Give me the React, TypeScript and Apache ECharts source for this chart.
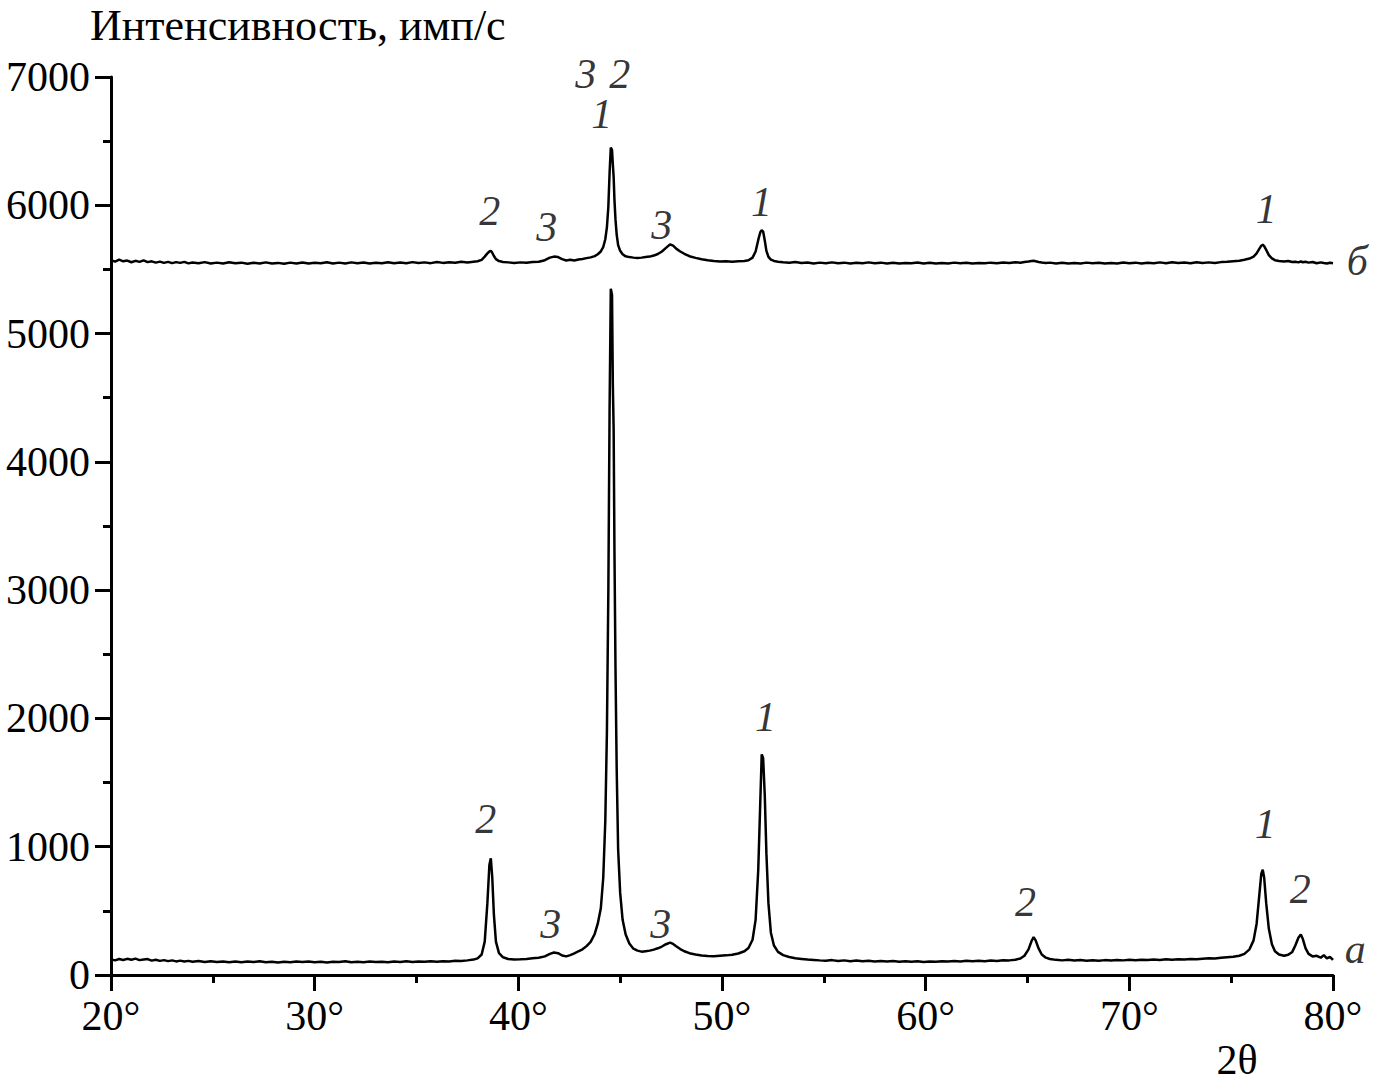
import React, { useEffect, useRef } from "react";
import * as echarts from "echarts";

// Diffraction scan "а" (lower curve): [2θ, intensity]
const scanA: [number, number][] = [
  [20.0, 122], [20.2, 114], [20.4, 125], [20.6, 117], [20.8, 126], [21.0, 119], [21.2, 128], [21.4, 116],
  [21.6, 121], [21.8, 124], [22.0, 112], [22.2, 119], [22.4, 110], [22.6, 116], [22.8, 108], [23.0, 114],
  [23.2, 106], [23.4, 112], [23.6, 105], [23.8, 110], [24.0, 103], [24.3, 109], [24.6, 102], [24.9, 107],
  [25.2, 101], [25.5, 106], [25.8, 100], [26.1, 105], [26.4, 99], [26.7, 105], [27.0, 101], [27.3, 107],
  [27.6, 100], [27.9, 104], [28.2, 98], [28.5, 103], [28.8, 99], [29.1, 105], [29.4, 101], [29.7, 106],
  [30.0, 100], [30.3, 104], [30.6, 98], [30.9, 103], [31.2, 101], [31.5, 107], [31.8, 99], [32.1, 103],
  [32.4, 100], [32.7, 106], [33.0, 101], [33.3, 104], [33.6, 99], [33.9, 105], [34.2, 102], [34.5, 107],
  [34.8, 101], [35.1, 105], [35.4, 103], [35.7, 108], [36.0, 104], [36.3, 108], [36.6, 106], [36.9, 111],
  [37.2, 109], [37.5, 114],
  [37.8, 120], [38.0, 130], [38.2, 160], [38.35, 260], [38.48, 560], [38.58, 860], [38.65, 910], [38.72, 760],
  [38.8, 470], [38.9, 260], [39.05, 170], [39.25, 138], [39.5, 125], [39.8, 120], [40.1, 122], [40.4, 125],
  [40.7, 130], [41.0, 135], [41.3, 145], [41.55, 165], [41.75, 175], [41.95, 170], [42.15, 152], [42.35, 145],
  [42.55, 155], [42.75, 168], [42.95, 185], [43.15, 200], [43.35, 225], [43.55, 258], [43.75, 320], [43.9, 400],
  [44.05, 520], [44.17, 760], [44.27, 1200], [44.35, 1900], [44.42, 3000], [44.48, 4400], [44.54, 5350], [44.6, 5300],
  [44.64, 4600], [44.68, 4250], [44.72, 3300], [44.77, 2400], [44.83, 1600], [44.9, 980], [45.0, 640], [45.12, 430],
  [45.27, 315], [45.45, 245], [45.65, 205], [45.85, 190], [46.05, 182], [46.25, 186], [46.45, 190], [46.65, 198],
  [46.85, 208], [47.05, 222], [47.25, 240], [47.45, 252], [47.6, 242], [47.75, 224], [47.95, 202], [48.15, 185],
  [48.4, 170], [48.7, 160], [49.0, 152], [49.3, 148], [49.6, 146], [49.9, 150], [50.2, 153], [50.5, 158],
  [50.8, 168], [51.1, 185], [51.3, 210], [51.5, 275], [51.65, 430], [51.78, 820], [51.88, 1350], [51.95, 1720],
  [52.02, 1690], [52.1, 1400], [52.18, 950], [52.28, 560], [52.4, 330], [52.55, 230], [52.75, 180], [53.0, 155],
  [53.3, 140], [53.6, 130], [53.9, 125], [54.2, 120], [54.5, 117], [54.8, 114],
  [55.1, 112], [55.4, 116], [55.7, 110], [56.0, 114], [56.3, 108], [56.6, 113], [56.9, 107], [57.2, 111],
  [57.5, 106], [57.8, 110], [58.1, 105], [58.4, 109], [58.7, 104], [59.0, 108], [59.3, 103], [59.6, 107],
  [59.9, 102], [60.2, 106], [60.5, 104], [60.8, 108], [61.1, 105], [61.4, 109], [61.7, 106], [62.0, 111],
  [62.3, 107], [62.6, 112], [62.9, 108], [63.2, 113], [63.5, 110], [63.8, 115],
  [64.1, 114], [64.4, 119], [64.65, 128], [64.85, 150], [65.05, 200], [65.2, 265], [65.3, 295], [65.4, 270],
  [65.55, 205], [65.7, 160], [65.9, 135], [66.1, 125],
  [66.4, 118], [66.7, 114], [67.0, 118], [67.3, 113], [67.6, 117], [67.9, 112], [68.2, 115], [68.5, 111],
  [68.8, 116], [69.1, 113], [69.4, 117], [69.7, 114], [70.0, 118], [70.3, 115], [70.6, 119], [70.9, 116],
  [71.2, 120], [71.5, 117], [71.8, 122], [72.1, 119], [72.4, 123], [72.7, 120], [73.0, 125], [73.3, 122],
  [73.6, 127], [73.9, 131], [74.2, 128], [74.5, 134], [74.8, 138],
  [75.1, 142], [75.4, 150], [75.65, 165], [75.9, 200], [76.1, 270], [76.25, 400], [76.38, 620], [76.48, 790],
  [76.55, 820], [76.62, 760], [76.72, 560], [76.85, 360], [77.0, 240], [77.15, 185], [77.35, 160], [77.6, 150],
  [77.8, 158], [78.0, 180], [78.15, 230], [78.3, 290], [78.42, 315], [78.52, 280], [78.65, 210], [78.8, 165],
  [79.0, 145], [79.2, 150], [79.4, 135], [79.55, 155], [79.7, 130], [79.85, 142], [80.0, 118],
];

// Diffraction scan "б" (upper curve): [2θ, intensity]
const scanB: [number, number][] = [
  [20.0, 5572], [20.2, 5561], [20.4, 5576], [20.6, 5563], [20.8, 5569], [21.0, 5556], [21.2, 5567], [21.4, 5559],
  [21.6, 5571], [21.8, 5557], [22.0, 5563], [22.2, 5553], [22.4, 5561], [22.6, 5551], [22.8, 5559], [23.0, 5549],
  [23.2, 5557], [23.4, 5551], [23.6, 5559], [23.8, 5547], [24.0, 5554], [24.3, 5548], [24.6, 5557], [24.9, 5546],
  [25.2, 5553], [25.5, 5547], [25.8, 5556], [26.1, 5549], [26.4, 5553], [26.7, 5545], [27.0, 5552], [27.3, 5547],
  [27.6, 5555], [27.9, 5546], [28.2, 5551], [28.5, 5544], [28.8, 5553], [29.1, 5547], [29.4, 5554], [29.7, 5546],
  [30.0, 5552], [30.3, 5548], [30.6, 5556], [30.9, 5547], [31.2, 5553], [31.5, 5546], [31.8, 5555], [32.1, 5549],
  [32.4, 5554], [32.7, 5547], [33.0, 5552], [33.3, 5548], [33.6, 5556], [33.9, 5549], [34.2, 5554], [34.5, 5548],
  [34.8, 5557], [35.1, 5550], [35.4, 5555], [35.7, 5549], [36.0, 5558], [36.3, 5551], [36.6, 5556], [36.9, 5552],
  [37.2, 5559], [37.5, 5554],
  [37.8, 5560], [38.0, 5564], [38.2, 5575], [38.35, 5600], [38.48, 5625], [38.58, 5640], [38.65, 5645], [38.72, 5630],
  [38.8, 5605], [38.9, 5580], [39.05, 5565], [39.25, 5558], [39.5, 5555], [39.8, 5550], [40.1, 5555], [40.4, 5552],
  [40.7, 5558], [41.0, 5560], [41.3, 5572], [41.55, 5592], [41.75, 5600], [41.95, 5596], [42.15, 5580], [42.35, 5570],
  [42.55, 5575], [42.75, 5570], [42.95, 5578], [43.15, 5582], [43.35, 5588], [43.55, 5594], [43.75, 5604], [43.9, 5618],
  [44.05, 5640], [44.17, 5675], [44.27, 5735], [44.35, 5830], [44.42, 5990], [44.48, 6250], [44.54, 6450], [44.6, 6430],
  [44.64, 6320], [44.68, 6220], [44.72, 6040], [44.77, 5890], [44.83, 5770], [44.9, 5690], [45.0, 5645], [45.12, 5618],
  [45.27, 5602], [45.45, 5596], [45.65, 5592], [45.85, 5590], [46.05, 5592], [46.25, 5596], [46.45, 5600], [46.65, 5608],
  [46.85, 5620], [47.05, 5640], [47.25, 5668], [47.45, 5695], [47.6, 5685], [47.75, 5662], [47.95, 5640], [48.15, 5622],
  [48.4, 5603], [48.7, 5590], [49.0, 5580], [49.3, 5572], [49.6, 5566], [49.9, 5562], [50.2, 5563], [50.5, 5559],
  [50.8, 5563], [51.1, 5566], [51.3, 5572], [51.5, 5592], [51.65, 5640], [51.78, 5730], [51.88, 5790], [51.95, 5805],
  [52.02, 5795], [52.1, 5725], [52.18, 5645], [52.28, 5598], [52.4, 5576], [52.55, 5566], [52.75, 5560], [53.0, 5556],
  [53.3, 5552], [53.6, 5558], [53.9, 5550], [54.2, 5554], [54.5, 5547], [54.8, 5553],
  [55.1, 5548], [55.4, 5555], [55.7, 5549], [56.0, 5553], [56.3, 5546], [56.6, 5552], [56.9, 5548], [57.2, 5555],
  [57.5, 5549], [57.8, 5553], [58.1, 5547], [58.4, 5552], [58.7, 5546], [59.0, 5551], [59.3, 5548], [59.6, 5554],
  [59.9, 5547], [60.2, 5552], [60.5, 5546], [60.8, 5550], [61.1, 5547], [61.4, 5553], [61.7, 5548], [62.0, 5552],
  [62.3, 5546], [62.6, 5551], [62.9, 5548], [63.2, 5553], [63.5, 5549], [63.8, 5554],
  [64.1, 5550], [64.4, 5556], [64.65, 5552], [64.85, 5558], [65.05, 5562], [65.2, 5566], [65.3, 5568], [65.4, 5564],
  [65.55, 5558], [65.7, 5554], [65.9, 5550], [66.1, 5553],
  [66.4, 5547], [66.7, 5552], [67.0, 5546], [67.3, 5551], [67.6, 5547], [67.9, 5553], [68.2, 5548], [68.5, 5552],
  [68.8, 5546], [69.1, 5550], [69.4, 5547], [69.7, 5554], [70.0, 5549], [70.3, 5553], [70.6, 5547], [70.9, 5552],
  [71.2, 5548], [71.5, 5555], [71.8, 5549], [72.1, 5556], [72.4, 5550], [72.7, 5554], [73.0, 5549], [73.3, 5556],
  [73.6, 5550], [73.9, 5555], [74.2, 5551], [74.5, 5557], [74.8, 5560],
  [75.1, 5564], [75.4, 5568], [75.65, 5575], [75.9, 5585], [76.1, 5600], [76.25, 5625], [76.38, 5660], [76.48, 5685],
  [76.55, 5692], [76.62, 5682], [76.72, 5652], [76.85, 5612], [77.0, 5586], [77.15, 5572], [77.35, 5565], [77.6, 5562],
  [77.8, 5566], [78.0, 5558], [78.15, 5560], [78.3, 5555], [78.42, 5562], [78.52, 5556], [78.65, 5560], [78.8, 5553],
  [79.0, 5558], [79.2, 5548], [79.4, 5555], [79.55, 5550], [79.7, 5546], [79.85, 5552], [80.0, 5548],
];

// Peak annotations: position (2θ, intensity) and text
const peakLabelX = [38.4, 41.59, 46.99, 52.14, 64.9, 76.67, 78.39, 81.09, 38.6, 41.39, 43.31, 44.98, 44.09, 47.04, 51.94, 76.72, 81.19];
const peakLabelY = [1216, 397, 397, 2011, 569, 1177, 670, 203, 5955, 5830, 7023, 7023, 6711, 5846, 6025, 5971, 5565];
const peakLabelText = ["2", "3", "3", "1", "2", "1", "2", "а", "2", "3", "3", "2", "1", "3", "1", "1", "б"];

const xMin = 20;
const xMax = 80;
const xStep = 10;
const yMin = 0;
const yMax = 7000;
const yStep = 1000;
const yTitle = "Интенсивность, имп/с";
const xTitle = "2θ";

const FONT = "'Liberation Serif', 'Times New Roman', serif";

export default function App() {
  const ref = useRef<HTMLDivElement>(null);

  useEffect(() => {
    if (!ref.current) return;
    const chart = echarts.init(ref.current, null, { renderer: "svg" });
    const axisCommon = {
      axisLine: { show: true, onZero: false, lineStyle: { color: "#000", width: 3 } },
      axisTick: { show: true, inside: false, length: 16, lineStyle: { color: "#000", width: 3 } },
      minorTick: { show: true, splitNumber: 2, length: 8, lineStyle: { color: "#000", width: 3 } },
      splitLine: { show: false },
      minorSplitLine: { show: false },
    };
    const labels = peakLabelX.map((x, i) => [x, peakLabelY[i], peakLabelText[i]]);
    chart.setOption({
      animation: false,
      backgroundColor: "#fff",
      grid: { left: 111, right: 47, top: 77, bottom: 109, containLabel: false },
      xAxis: {
        type: "value",
        min: xMin,
        max: xMax,
        interval: xStep,
        ...axisCommon,
        axisLabel: {
          color: "#000",
          fontFamily: FONT,
          fontSize: 42,
          margin: 20,
          formatter: (v: number) => `${v}°`,
        },
      },
      yAxis: {
        type: "value",
        min: yMin,
        max: yMax,
        interval: yStep,
        ...axisCommon,
        axisLabel: {
          color: "#000",
          fontFamily: FONT,
          fontSize: 42,
          margin: 21,
          formatter: (v: number) => String(v),
        },
      },
      graphic: [
        {
          type: "text",
          left: 90,
          top: 3,
          style: { text: yTitle, fill: "#000", font: `44px ${FONT}` },
        },
        {
          type: "text",
          x: 1237,
          y: 1060,
          style: { text: xTitle, fill: "#000", font: `42px ${FONT}`, textAlign: "center", textVerticalAlign: "middle" },
        },
      ],
      series: [
        {
          type: "line",
          data: scanA,
          showSymbol: false,
          symbol: "none",
          lineStyle: { color: "#000", width: 2.5 },
          silent: true,
        },
        {
          type: "line",
          data: scanB,
          showSymbol: false,
          symbol: "none",
          lineStyle: { color: "#000", width: 2.5 },
          silent: true,
        },
        {
          type: "scatter",
          data: labels,
          symbolSize: 1,
          itemStyle: { color: "rgba(255,255,255,0)" },
          clip: false,
          silent: true,
          label: {
            show: true,
            position: "inside",
            formatter: (p: any) => p.data[2],
            color: "#000",
            textBorderWidth: 0,
            fontFamily: FONT,
            fontSize: 42,
            fontStyle: "italic",
          },
        },
      ],
    });
    return () => chart.dispose();
  }, []);

  return (
    <div
      ref={ref}
      style={{ position: "fixed", left: 0, top: 0, width: 1380, height: 1084, background: "#fff" }}
    />
  );
}
